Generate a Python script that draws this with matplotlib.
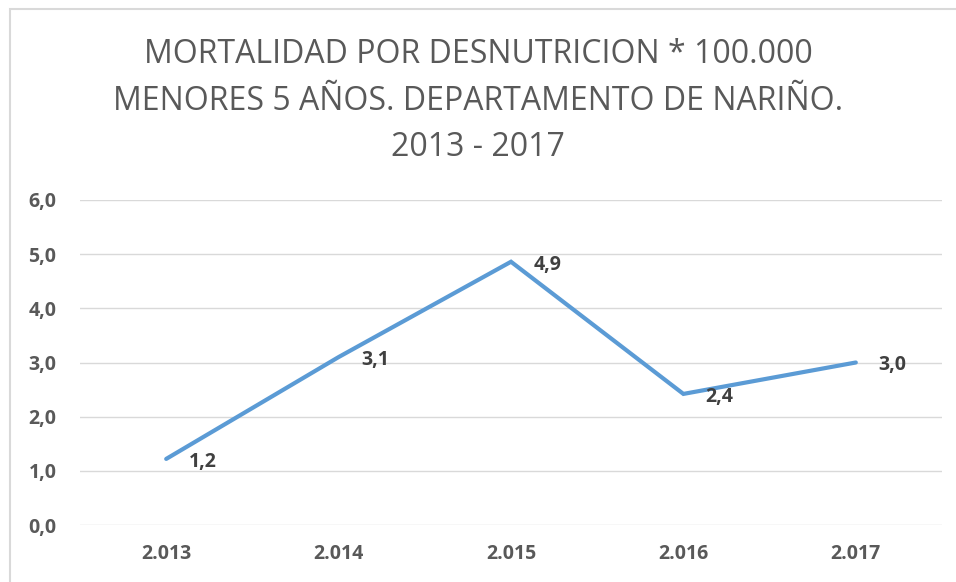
import matplotlib
matplotlib.use("Agg")
import matplotlib.pyplot as plt
from matplotlib.patches import Rectangle

years = ["2.013", "2.014", "2.015", "2.016", "2.017"]
values = [1.22, 3.1, 4.86, 2.42, 3.0]
yticks = [0, 1, 2, 3, 4, 5, 6]
title = "MORTALIDAD POR DESNUTRICION * 100.000\nMENORES 5 AÑOS. DEPARTAMENTO DE NARIÑO.\n2013 - 2017"

plt.rcParams['font.family'] = ['Open Sans', 'DejaVu Sans']
W, H = 956, 582
fig = plt.figure(figsize=(W/100, H/100), dpi=100)
ax = fig.add_axes([80/W, 1-525/H, (942-80)/W, (525-200)/H])

x = list(range(len(years)))
ax.plot(x, values, color="#5B9BD5", lw=3.0, solid_capstyle="round", solid_joinstyle="miter", zorder=3)
for xi, v in zip(x, values):
    ax.annotate(f"{v:.1f}".replace(".", ","), (xi, v), xytext=(16, -2), textcoords="offset points",
                ha="left", va="center", fontsize=14, fontweight="bold", color="#404040")

ax.set_xlim(-0.5, len(years)-0.5)
ax.set_ylim(0, 6)
ax.set_yticks(yticks)
ax.set_yticklabels([f"{t:.1f}".replace(".", ",") for t in yticks])
ax.set_xticks(x)
ax.set_xticklabels(years)
for lab in ax.get_xticklabels() + ax.get_yticklabels():
    lab.set_fontweight("bold")
    lab.set_color("#595959")
    lab.set_fontsize(14)
ax.tick_params(axis="both", length=0)
ax.tick_params(axis="y", pad=17)
ax.tick_params(axis="x", pad=14)
ax.grid(axis="y", color="#d9d9d9", lw=1)
ax.set_axisbelow(True)
for s in ax.spines.values():
    s.set_visible(False)

fig.text(0.5, 1-101/H, title, ha="center", va="center", fontsize=23, color="#595959", linespacing=1.55)

fig.patches.append(Rectangle((10/W, -0.1), 1.2, 1-9/H+0.1, transform=fig.transFigure,
                             fill=False, edgecolor="#d9d9d9", lw=1.5))

fig.savefig("out.png", dpi=100)
